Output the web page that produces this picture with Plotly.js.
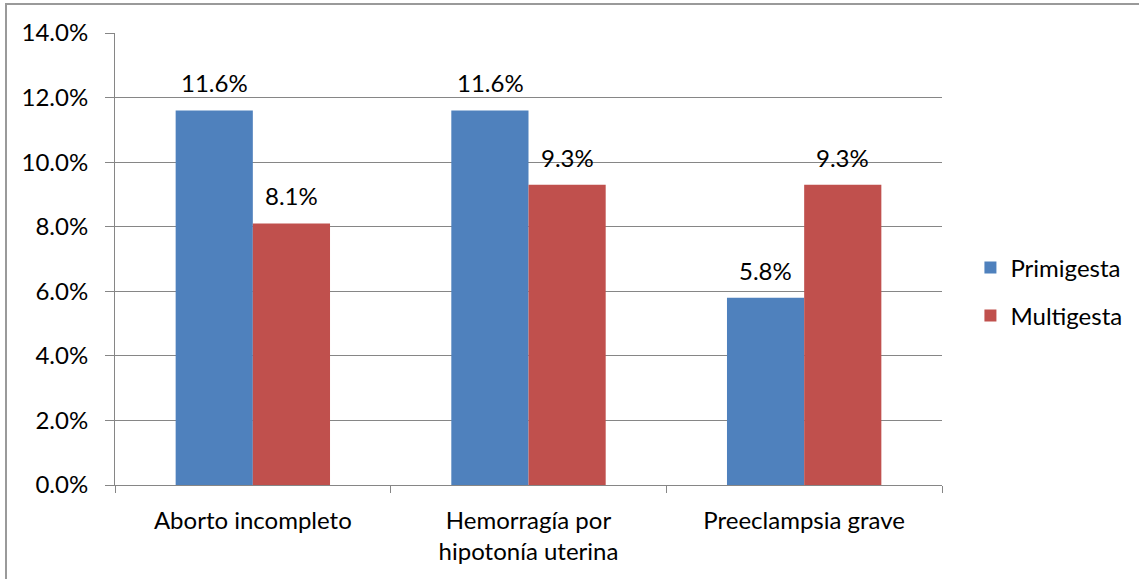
<!DOCTYPE html>
<html>
<head>
<meta charset="utf-8">
<script src="https://cdn.plot.ly/plotly-3.0.1.min.js"></script>
<style>
html,body{margin:0;padding:0;background:#fff;overflow:hidden;}
#frame{position:absolute;left:5px;top:3px;width:1200px;height:700px;border:2px solid #9a9a9a;box-sizing:border-box;}
#chart{position:absolute;left:0;top:0;width:1139px;height:579px;}
</style>
</head>
<body>
<div id="frame"></div>
<div id="chart"></div>
<script>
const categories = ["Aborto incompleto", "Hemorragía por<br>hipotonía uterina", "Preeclampsia grave"];
const primigesta = [11.6, 11.6, 5.8];
const multigesta = [8.1, 9.3, 9.3];
const seriesNames = ["Primigesta", "Multigesta"];
const colors = ["#4F81BD", "#C0504D"];
const yTicks = [0, 2, 4, 6, 8, 10, 12, 14];
const yTickLabels = yTicks.map(v => v.toFixed(1) + "%");

const FONT = "Lato, 'Open Sans', sans-serif";
const FS = 24;
const series = [primigesta, multigesta];

const traces = series.map((vals, i) => ({
  type: "bar",
  name: seriesNames[i],
  x: categories,
  y: vals,
  marker: {color: colors[i], line: {width: 0}},
  legendgroup: "g" + i,
  hoverinfo: "skip"
}));

const annotations = [];
series.forEach((vals, i) => {
  vals.forEach((v, j) => {
    annotations.push({
      x: categories[j], y: v, xref: "x", yref: "y",
      text: v.toFixed(1) + "%",
      showarrow: false,
      xanchor: "center", yanchor: "bottom",
      xshift: (i === 0 ? -38.5 : 38.5),
      yshift: 11,
      font: {family: FONT, size: FS, color: "#000"}
    });
  });
});

const layout = {
  width: 1139, height: 579,
  margin: {l: 115, r: 197, t: 33, b: 94},
  paper_bgcolor: "rgba(0,0,0,0)",
  plot_bgcolor: "rgba(0,0,0,0)",
  barmode: "group",
  bargap: 0.44,
  bargroupgap: 0,
  font: {family: FONT, size: FS, color: "#000"},
  xaxis: {
    type: "category",
    tickson: "boundaries",
    ticks: "outside", ticklen: 7, tickcolor: "#868686", tickwidth: 1,
    showline: true, linecolor: "#868686", linewidth: 1,
    showgrid: false, zeroline: false,
    automargin: false,
    ticklabelstandoff: 14,
    tickfont: {family: FONT, size: FS, color: "#000"}
  },
  yaxis: {
    range: [0, 14],
    tickvals: yTicks, ticktext: yTickLabels,
    ticks: "outside", ticklen: 9, tickcolor: "#868686", tickwidth: 1,
    showline: true, linecolor: "#868686", linewidth: 1,
    showgrid: true, gridcolor: "#868686", gridwidth: 1,
    zeroline: false,
    automargin: false,
    ticklabelstandoff: 12,
    tickfont: {family: FONT, size: FS, color: "#000"}
  },
  legend: {
    xref: "container", yref: "container",
    x: 0.852, xanchor: "left", y: 0.496, yanchor: "middle",
    font: {family: FONT, size: FS, color: "#000"},
    tracegroupgap: 14,
    itemwidth: 30,
    bgcolor: "rgba(0,0,0,0)"
  },
  annotations: annotations
};

Plotly.newPlot("chart", traces, layout, {displayModeBar: false, staticPlot: true});
</script>
</body>
</html>
